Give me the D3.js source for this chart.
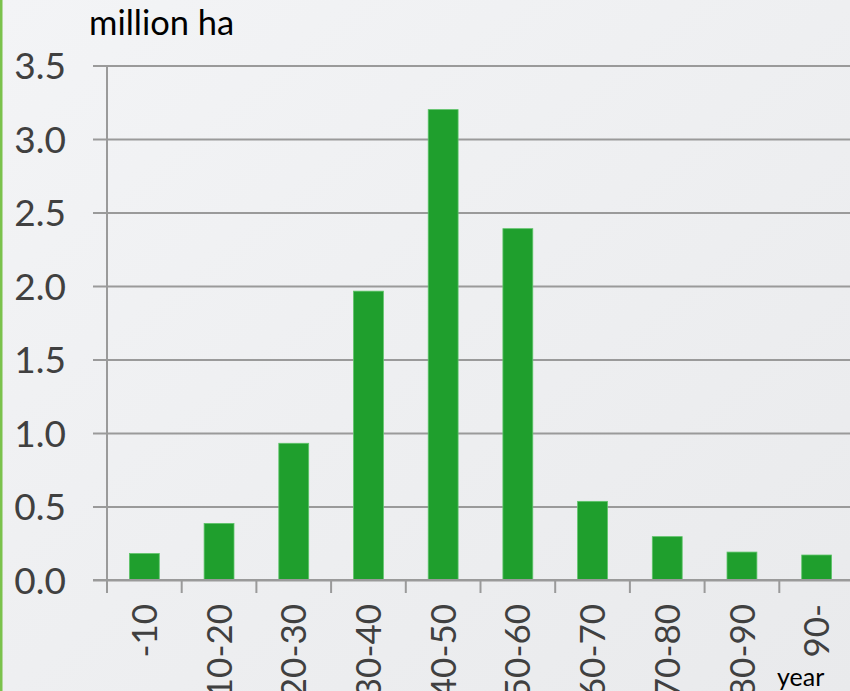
<!DOCTYPE html>
<html>
<head>
<meta charset="utf-8">
<script src="https://cdn.jsdelivr.net/npm/d3@7"></script>
<style>
  html, body { margin: 0; padding: 0; overflow: hidden; }
  body { width: 850px; height: 691px; }
  svg { display: block; }
  svg text { font-family: Lato, "Open Sans", sans-serif; }
</style>
</head>
<body>
<svg id="chart"></svg>
<script>
// area by age class
var categories = ["-10", "10-20", "20-30", "30-40", "40-50", "50-60", "60-70", "70-80", "80-90", "90-"];
var values = [0.18, 0.385, 0.93, 1.965, 3.2, 2.39, 0.535, 0.295, 0.19, 0.17];
var yTicks = [0, 0.5, 1.0, 1.5, 2.0, 2.5, 3.0, 3.5];

var W = 850, H = 691;
var margin = { top: 65.5, right: -4, bottom: 111, left: 107 };

var svg = d3.select("#chart")
  .attr("width", W)
  .attr("height", H);

// background
var defs = svg.append("defs");
var grad = defs.append("linearGradient")
  .attr("id", "bg")
  .attr("x1", "0").attr("y1", "0")
  .attr("x2", "1").attr("y2", "1");
grad.append("stop").attr("offset", "0%").attr("stop-color", "#f3f4f6");
grad.append("stop").attr("offset", "100%").attr("stop-color", "#e9eaec");

svg.append("rect")
  .attr("width", W).attr("height", H)
  .attr("fill", "url(#bg)");

svg.append("rect")
  .attr("x", 0).attr("y", 0)
  .attr("width", 2.5).attr("height", H)
  .attr("fill", "#7bc24c");

var x = d3.scaleBand()
  .domain(categories)
  .range([margin.left, W - margin.right])
  .padding(0);

var y = d3.scaleLinear()
  .domain([0, 3.5])
  .range([H - margin.bottom, margin.top]);

// gridlines + y ticks
var yAxis = svg.append("g")
  .attr("transform", "translate(" + margin.left + ",0)")
  .call(d3.axisLeft(y)
    .tickValues(yTicks)
    .tickFormat(d3.format(".1f"))
    .tickSize(14)
    .tickPadding(27));
yAxis.attr("font-family", null).attr("font-size", null);
yAxis.select(".domain").remove();
yAxis.selectAll(".tick line")
  .attr("x1", -14).attr("x2", W - margin.left)
  .attr("stroke", "#9a9a9a")
  .attr("stroke-width", 2);
yAxis.selectAll(".tick text")
  .attr("fill", "#404040")
  .style("font-size", "37px")
  .attr("dy", "0.36em");

// bars
var barW = x.bandwidth() * 0.4;
svg.selectAll(".bar")
  .data(values)
  .enter()
  .append("rect")
  .attr("class", "bar")
  .attr("x", function (d, i) { return x(categories[i]) + (x.bandwidth() - barW) / 2; })
  .attr("width", barW)
  .attr("y", function (d) { return y(d); })
  .attr("height", function (d) { return y(0) - y(d); })
  .attr("fill", "#1f9f2d")
  .attr("stroke", "#5fc46a")
  .attr("stroke-width", 0.8);

// x axis: tick marks at band boundaries
var xAxis = svg.append("g")
  .attr("transform", "translate(0," + y(0) + ")");
xAxis.append("line")
  .attr("x1", margin.left - 14).attr("x2", W)
  .attr("stroke", "#9a9a9a").attr("stroke-width", 2);
xAxis.selectAll(".sep")
  .data(categories)
  .enter()
  .append("line")
  .attr("class", "sep")
  .attr("x1", function (d) { return x(d); })
  .attr("x2", function (d) { return x(d); })
  .attr("y1", 0).attr("y2", 13)
  .attr("stroke", "#9a9a9a").attr("stroke-width", 2);

// y axis line
svg.append("line")
  .attr("x1", margin.left).attr("x2", margin.left)
  .attr("y1", y(3.5)).attr("y2", y(0) + 13)
  .attr("stroke", "#9a9a9a").attr("stroke-width", 2);

// category labels, rotated
xAxis.selectAll(".lab")
  .data(categories)
  .enter()
  .append("text")
  .attr("class", "lab")
  .attr("transform", function (d) {
    return "translate(" + (x(d) + x.bandwidth() / 2) + ",24) rotate(-90)";
  })
  .attr("text-anchor", "end")
  .attr("dy", "0.36em")
  .attr("fill", "#404040")
  .style("font-size", "35px")
  .text(function (d) { return d; });

// unit labels
svg.append("text")
  .attr("x", 89).attr("y", 35)
  .attr("fill", "#000")
  .style("font-size", "34.5px")
  .text("million ha");

svg.append("text")
  .attr("x", 777).attr("y", 686)
  .attr("fill", "#000")
  .style("font-size", "25px")
  .text("year");
</script>
</body>
</html>
